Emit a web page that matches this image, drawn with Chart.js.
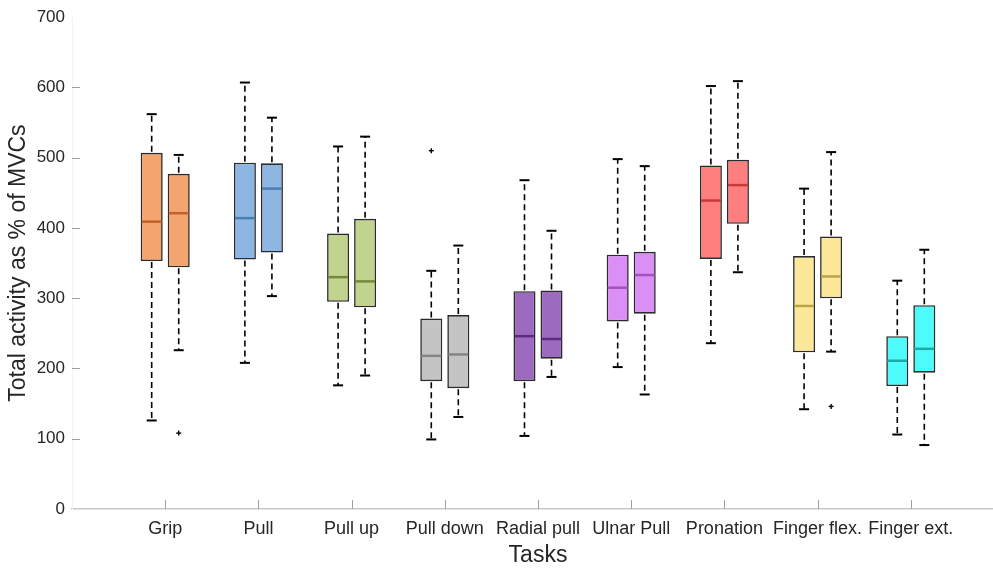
<!DOCTYPE html>
<html>
<head>
<meta charset="utf-8">
<script src="https://cdn.jsdelivr.net/npm/chart.js@4/dist/chart.umd.min.js"></script>
<style>
    html, body { margin: 0; padding: 0; background: #ffffff; overflow: hidden; }
    #wrap { width: 1010px; height: 570px; position: relative; }
</style>
</head>
<body>
<div id="wrap"><canvas id="tareasChart"></canvas></div>
<script>
const tareas = ['Grip', 'Pull', 'Pull up', 'Pull down', 'Radial pull', 'Ulnar Pull', 'Pronation', 'Finger flex.', 'Finger ext.'];
const yTicks = [0, 100, 200, 300, 400, 500, 600, 700];

// left box of each task
const minA = [126, 208, 176,  99, 104, 202, 236, 142, 106];
const q1A  = [353, 355, 295, 182, 182, 267, 356, 223, 175];
const medA = [409, 414, 330, 218, 246, 315, 439, 289, 211];
const q3A  = [507, 493, 392, 271, 310, 362, 489, 360, 246];
const maxA = [562, 607, 516, 339, 468, 498, 602, 456, 325];
const outA = [[], [], [], [510], [], [], [], [], []];

// right box of each task
const minB = [226, 303, 190, 131, 188, 163, 337, 224,  91];
const q1B  = [344, 365, 287, 172, 214, 278, 406, 300, 194];
const medB = [421, 456, 324, 220, 242, 333, 461, 331, 228];
const q3B  = [477, 492, 413, 276, 311, 366, 497, 388, 290];
const maxB = [504, 557, 530, 375, 396, 488, 609, 508, 369];
const outB = [[108], [], [], [], [], [], [], [146], []];

const relleno = [
    '#F4A46F',  // Grip
    '#8DB6E2',  // Pull
    '#C2D38E',  // Pull up
    '#C4C4C4',  // Pull down
    '#9C6BBF',  // Radial pull
    '#DB8EF6',  // Ulnar Pull
    '#FF7E7E',  // Pronation
    '#FCE898',  // Finger flex.
    '#4EFBFB'   // Finger ext.
];
const mediana = ['#C0632A', '#4A7FB0', '#76883A', '#858585', '#5E2A82', '#A352BE', '#C93A3A', '#B9A44C', '#1FA8A8'];

const series = [
    { min: minA, q1: q1A, med: medA, q3: q3A, max: maxA, out: outA },
    { min: minB, q1: q1B, med: medB, q3: q3B, max: maxB, out: outB }
];

const texto = '#262626';
const fuente = 'Liberation Sans, Arial, sans-serif';

const cajasPlugin = {
    id: 'cajas',
    afterDatasetsDraw(chart) {
        const { ctx, chartArea, scales: { x, y } } = chart;
        const linea = (x1, y1, x2, y2) => {
            ctx.beginPath();
            ctx.moveTo(x1, y1);
            ctx.lineTo(x2, y2);
            ctx.stroke();
        };
        ctx.save();

        // tick marks (inside, like the original)
        ctx.strokeStyle = '#a0a0a0';
        ctx.lineWidth = 1;
        y.ticks.forEach(t => {
            if (t.value > y.min && t.value < y.max) {
                const py = Math.round(y.getPixelForValue(t.value)) + 0.5;
                linea(chartArea.left, py, chartArea.left + 8, py);
            }
        });
        x.ticks.forEach(t => {
            const px = Math.round(x.getPixelForValue(t.value)) + 0.5;
            linea(px, chartArea.bottom, px, chartArea.bottom - 9);
        });

        series.forEach((s, d) => {
            const meta = chart.getDatasetMeta(d);
            meta.data.forEach((bar, i) => {
                const cx = bar.x;
                const half = bar.width / 2;
                const capHalf = 5;
                ctx.strokeStyle = '#000000';

                // whiskers
                ctx.lineWidth = 1.6;
                ctx.setLineDash([6, 4]);
                linea(cx, y.getPixelForValue(s.q3[i]) - 1, cx, y.getPixelForValue(s.max[i]));
                linea(cx, y.getPixelForValue(s.q1[i]) + 1, cx, y.getPixelForValue(s.min[i]));
                ctx.setLineDash([]);

                // caps
                ctx.lineWidth = 2;
                let py = y.getPixelForValue(s.max[i]);
                linea(cx - capHalf, py, cx + capHalf, py);
                py = y.getPixelForValue(s.min[i]);
                linea(cx - capHalf, py, cx + capHalf, py);

                // median
                ctx.strokeStyle = mediana[i];
                ctx.lineWidth = 2.5;
                py = y.getPixelForValue(s.med[i]);
                linea(cx - half + 1, py, cx + half - 1, py);

                // outliers
                ctx.strokeStyle = '#000000';
                ctx.lineWidth = 1.4;
                s.out[i].forEach(v => {
                    const oy = y.getPixelForValue(v);
                    linea(cx - 2.5, oy, cx + 2.5, oy);
                    linea(cx, oy - 2.5, cx, oy + 2.5);
                });
            });
        });
        ctx.restore();
    }
};

const ctx = document.getElementById('tareasChart').getContext('2d');
new Chart(ctx, {
    type: 'bar',
    data: {
        datasets: series.map((s, d) => ({
            label: d === 0 ? 'A' : 'B',
            data: tareas.map((t, i) => ({ x: i + 1, y: [s.q1[i], s.q3[i]] })),
            backgroundColor: relleno,
            borderColor: '#2b2b2b',
            borderWidth: 1.6,
            borderSkipped: false,
            categoryPercentage: 0.58,
            barPercentage: 0.815
        }))
    },
    options: {
        responsive: true,
        maintainAspectRatio: false,
        animation: false,
        layout: { padding: { top: 15, right: 6, bottom: 0, left: 0 } },
        plugins: {
            legend: { display: false },
            tooltip: { enabled: false }
        },
        scales: {
            x: {
                type: 'linear',
                offset: false,
                min: 0,
                max: 10,
                afterBuildTicks: scale => {
                    scale.ticks = tareas.map((t, i) => ({ value: i + 1 }));
                },
                afterFit: scale => { scale.height = 61; },
                grid: { display: false, drawTicks: false, offset: false },
                border: { display: true, color: '#c8c8c8', width: 1.5 },
                ticks: {
                    autoSkip: false,
                    maxRotation: 0,
                    padding: 9,
                    color: texto,
                    font: { family: fuente, size: 18 },
                    callback: v => tareas[v - 1]
                },
                title: {
                    display: true,
                    text: 'Tasks',
                    color: texto,
                    padding: { top: 0, bottom: 1 },
                    font: { family: fuente, size: 23 }
                }
            },
            y: {
                min: 0,
                max: 700,
                afterBuildTicks: scale => {
                    scale.ticks = yTicks.map(v => ({ value: v }));
                },
                afterFit: scale => { scale.width = 72; },
                grid: { display: false, drawTicks: false },
                border: { display: true, color: '#f2f2f2', width: 1 },
                ticks: {
                    padding: 7,
                    color: texto,
                    font: { family: fuente, size: 17 }
                },
                title: {
                    display: true,
                    text: 'Total activity as % of MVCs',
                    color: texto,
                    padding: { top: 5, bottom: 0 },
                    font: { family: fuente, size: 23 }
                }
            }
        }
    },
    plugins: [cajasPlugin]
});
</script>
</body>
</html>
